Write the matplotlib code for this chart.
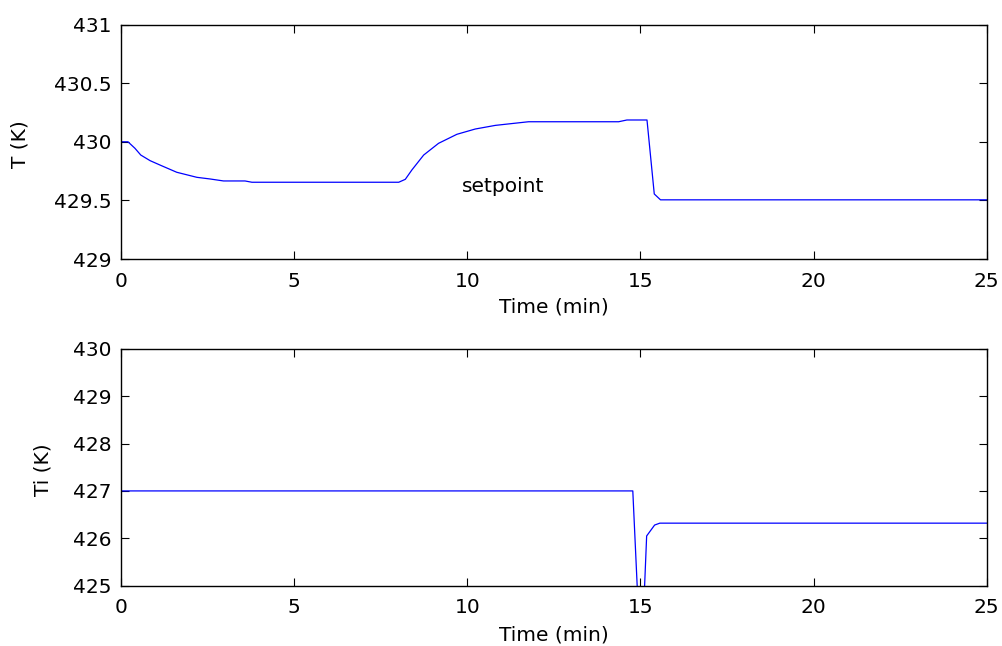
import numpy as np
import matplotlib
matplotlib.use("Agg")
import matplotlib.pyplot as plt

plt.rcParams['font.family'] = ['DejaVu Sans']
plt.rcParams['font.size'] = 14.5

# reactor temperature T (K) vs time (min)
t_T = [0, 0.2, 0.4, 0.57, 0.84, 1.17, 1.61, 2.19, 2.57, 2.96, 3.58, 3.78,
       8.02, 8.21, 8.40, 8.74, 9.17, 9.70, 10.23, 10.81, 11.24, 11.77,
       14.37, 14.61, 15.19, 15.40, 15.58, 25]
T = [430.0, 430.0, 429.945, 429.887, 429.839, 429.796, 429.74, 429.697,
     429.683, 429.666, 429.666, 429.655,
     429.655, 429.68, 429.76, 429.887, 429.987, 430.064, 430.109, 430.14,
     430.154, 430.171, 430.171, 430.186, 430.186, 429.555, 429.505, 429.505]

# inlet temperature Ti (K) vs time (min)
t_Ti = [0, 14.78, 15.02, 15.18, 15.41, 15.56, 25]
Ti = [427.0, 427.0, 423.2, 426.05, 426.28, 426.32, 426.32]

fig = plt.figure(figsize=(10.02, 6.46), dpi=100)
ax1 = fig.add_axes([0.1208, 0.599, 0.8639, 0.363])
ax2 = fig.add_axes([0.1208, 0.0933, 0.8639, 0.3669])

ax1.plot(t_T, T, color='blue', lw=0.9)
ax1.set_xlim(0, 25)
ax1.set_ylim(429, 431)
ax1.set_yticks([429, 429.5, 430, 430.5, 431])
ax1.set_yticklabels(['429', '429.5', '430', '430.5', '431'])
ax1.set_ylabel('T (K)')
ax1.yaxis.set_label_coords(-0.1166, 0.49)
ax1.text(9.85, 429.62, 'setpoint', va='center')

ax2.plot(t_Ti, Ti, color='blue', lw=0.9)
ax2.set_xlim(0, 25)
ax2.set_ylim(425, 430)
ax2.set_yticks(np.arange(425, 431, 1))
ax2.set_ylabel('Ti (K)')
ax2.yaxis.set_label_coords(-0.09, 0.49)

for ax, ly in ((ax1, -0.203), (ax2, -0.208)):
    ax.set_xticks(np.arange(0, 26, 5))
    ax.set_xlabel('Time (min)')
    ax.xaxis.set_label_coords(0.5, ly)
    ax.xaxis.label.set_va('center')
    ax.yaxis.label.set_va('center')
    ax.tick_params(direction='in', length=6, width=0.8, top=True, right=True)
    ax.tick_params(axis='x', pad=9)
    ax.tick_params(axis='y', pad=7)
    for s in ax.spines.values():
        s.set_linewidth(1.0)

fig.savefig('out.png', dpi=100)
